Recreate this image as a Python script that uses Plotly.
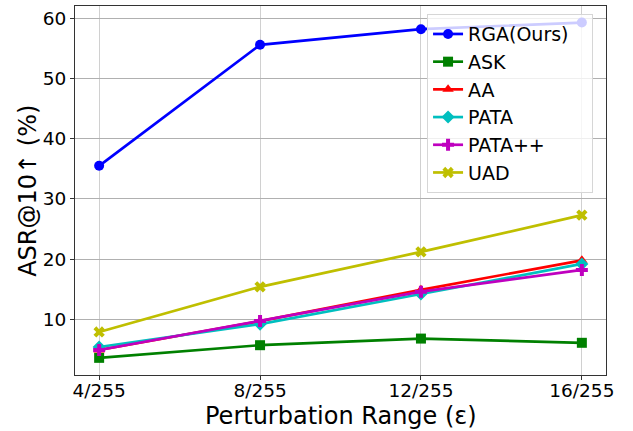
import plotly.graph_objects as go

categories = ["4/255", "8/255", "12/255", "16/255"]
rga = [35.5, 55.6, 58.2, 59.3]
ask = [3.6, 5.7, 6.8, 6.1]
aa = [4.9, 9.7, 14.9, 19.8]
pata = [5.4, 9.2, 14.2, 19.2]
pata_pp = [4.9, 9.7, 14.6, 18.2]
uad = [7.9, 15.4, 21.2, 27.3]

series = [
    ("RGA(Ours)\u00a0\u00a0\u00a0", rga, "#0000ff", "circle"),
    ("ASK", ask, "#008000", "square"),
    ("AA", aa, "#ff0000", "triangle-up"),
    ("PATA", pata, "#00bfbf", "diamond"),
    ("PATA++", pata_pp, "#bf00bf", "cross"),
    ("UAD", uad, "#bfbf00", "x"),
]

fig = go.Figure()
for name, vals, color, sym in series:
    fig.add_trace(go.Scatter(
        x=list(range(len(categories))), y=vals, name=name, mode="lines+markers",
        line=dict(color=color, width=2.7),
        marker=dict(symbol=sym, size=10, color=color),
    ))

fig.update_layout(
    width=633, height=431,
    margin=dict(l=75, r=27, t=6, b=56),
    paper_bgcolor="white", plot_bgcolor="white",
    font=dict(family="DejaVu Sans", color="black", size=18.5),
    showlegend=True,
    legend=dict(x=0.663, y=0.978, xanchor="left", yanchor="top",
                bgcolor="rgba(255,255,255,0.8)", bordercolor="#d6d6d6", borderwidth=1,
                font=dict(size=19)),
    xaxis=dict(
        tickmode="array", tickvals=list(range(len(categories))), ticktext=categories,
        range=[-0.15, 3.15], showgrid=True, gridcolor="#d0d0d0", gridwidth=1,
        showline=True, linecolor="#333333", linewidth=1.2, mirror=True,
        ticks="outside", ticklen=4, tickcolor="#333333", ticklabelstandoff=-5,
        automargin=False, zeroline=False,
    ),
    yaxis=dict(
        range=[0.75, 62.05], tickvals=[10, 20, 30, 40, 50, 60],
        showgrid=True, gridcolor="#b0b0b0", gridwidth=1,
        showline=True, linecolor="#333333", linewidth=1.2, mirror=True,
        ticks="outside", ticklen=4, tickcolor="#333333",
        automargin=False, zeroline=False,
    ),
    annotations=[
        dict(text="Perturbation Range (ε)", xref="paper", yref="paper",
             x=0.5, y=-0.112, xanchor="center", yanchor="middle",
             showarrow=False, font=dict(size=24)),
        dict(text="ASR@10↑ (%)", xref="paper", yref="paper",
             x=-0.0898, y=0.5, xanchor="center", yanchor="middle",
             textangle=-90, showarrow=False, font=dict(size=24)),
    ],
)

fig.write_html("out.html", config={"displayModeBar": False},
               post_script="document.body.style.margin='0';")
